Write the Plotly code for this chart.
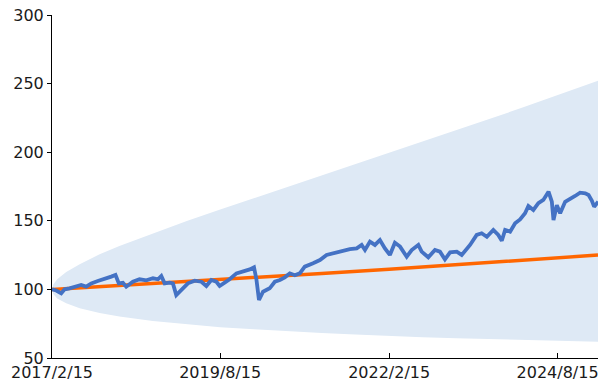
import pandas as pd
import plotly.graph_objects as go

START = "2017-02-15"

# Blue series: day offsets from 2017-02-15 and index values
blue_days = [0, 23, 50, 68, 95, 131, 158, 185, 213, 248, 285, 321, 344, 362, 384, 402,
             438, 474, 511, 547, 574, 592, 610, 637, 655, 673, 701, 736, 773, 809, 836,
             863, 890, 908, 935, 962, 999, 1035, 1071, 1094, 1107, 1121, 1143, 1179, 1207,
             1234, 1261, 1288, 1315, 1342, 1369, 1414, 1451, 1487, 1523, 1559, 1613, 1650,
             1677, 1695, 1722, 1749, 1776, 1803, 1830, 1857, 1885, 1921, 1948, 1984, 2002,
             2038, 2074, 2101, 2128, 2156, 2192, 2219, 2246, 2264, 2300, 2327, 2355, 2390,
             2417, 2436, 2454, 2481, 2508, 2535, 2562, 2580, 2607, 2634, 2661, 2689, 2707,
             2716, 2734, 2752, 2779, 2806, 2833, 2860, 2888, 2906, 2924, 2936, 2958]
blue_vals = [100, 99.2, 97.1, 100.1, 100.8, 102, 103.2, 102, 104.4, 106.1, 108.1, 109.3,
             110.5, 104.4, 104.8, 102, 105.6, 107.4, 106.6, 108.1, 107.4, 109.8, 104.4,
             104.9, 104.4, 95.9, 99.6, 104.4, 106.4, 105.6, 102.5, 106.9, 105.6, 102.5,
             104.9, 107.4, 111.7, 112.9, 114.6, 116.1, 107.4, 92.3, 98.3, 100.8, 105.6,
             106.9, 108.8, 111.7, 110.3, 111.7, 116.6, 119, 121.4, 125.1, 126.3, 127.5,
             129.4, 129.9, 132.4, 128.7, 134.8, 132.4, 136, 129.9, 125.1, 134.0, 131.2,
             123.8, 128.7, 132.4, 127.5, 123.4, 128.7, 127.5, 121.9, 127, 127.5, 125.1,
             129.6, 132.4, 139.7, 140.9, 138.4, 143.3, 139.7, 135.5, 143.3, 142.1, 148.2,
             151, 155.5, 160.8, 157.9, 162.8, 165.2, 171.2, 163.9, 150.6, 161.4, 155.5,
             163.9, 166.4, 168.1, 170.5, 170, 168.8, 164.6, 160.3, 163.9]

# Orange (expected path)
orange_dates = ["2017-02-15", "2018-02-15", "2019-02-15", "2020-02-15", "2021-02-15",
                "2022-02-15", "2023-02-15", "2024-02-15", "2025-03-22"]
orange_vals = [100, 102.8, 105.7, 108.6, 111.6, 114.7, 117.9, 121.2, 125]

# Band (upper / lower)
band_dates = ["2017-02-15", "2017-02-22", "2017-03-15", "2017-05-03", "2017-07-15",
              "2017-10-31", "2018-02-15", "2018-08-15", "2019-02-15", "2019-08-15",
              "2020-02-15", "2020-08-15", "2021-02-15", "2021-08-15", "2022-02-15",
              "2022-08-15", "2023-02-15", "2023-08-15", "2024-02-15", "2024-08-15",
              "2025-03-22"]
band_upper = [100, 103.6, 107.4, 112.6, 118.4, 125.6, 131.6, 140.9, 149.8, 158.2, 166.5,
              174.7, 182.7, 191.0, 199.2, 207.5, 215.7, 224.3, 232.9, 241.6, 252.0]
band_lower = [100, 96.6, 93.4, 89.9, 86.3, 82.8, 80.3, 77.0, 74.6, 72.5, 70.9, 69.4,
              68.2, 67.1, 66.0, 65.2, 64.4, 63.8, 63.1, 62.5, 61.9]

tick_dates = ["2017-02-15", "2019-08-15", "2022-02-15", "2024-08-15"]
tick_labels = ["2017/2/15", "2019/8/15", "2022/2/15", "2024/8/15"]

blue_dates = pd.Timestamp(START) + pd.to_timedelta(blue_days, unit="D")

fig = go.Figure()
fig.add_trace(go.Scatter(
    x=band_dates + band_dates[::-1],
    y=band_upper + band_lower[::-1],
    fill="toself", fillcolor="#DEE9F5", line=dict(width=0),
    mode="lines", hoverinfo="skip", showlegend=False))
fig.add_trace(go.Scatter(
    x=orange_dates, y=orange_vals, mode="lines",
    line=dict(color="#FF6600", width=3.5), showlegend=False))
fig.add_trace(go.Scatter(
    x=blue_dates, y=blue_vals, mode="lines",
    line=dict(color="#4472C4", width=3.8), showlegend=False))

fig.update_layout(
    width=612, height=390,
    margin=dict(l=52, r=14, t=15, b=32, autoexpand=False),
    paper_bgcolor="white", plot_bgcolor="white",
    font=dict(family="DejaVu Sans", size=16, color="#1a1a1a"),
    showlegend=False,
)
fig.update_xaxes(
    type="date", range=["2017-02-15", "2025-03-22"],
    tickvals=tick_dates, ticktext=tick_labels,
    ticks="inside", ticklen=5, tickcolor="black",
    showline=True, linecolor="black", linewidth=1,
    showgrid=False, zeroline=False, automargin=False,
    ticklabeloverflow="allow",
)
fig.update_yaxes(
    range=[50, 300], dtick=50, tick0=50,
    ticks="outside", ticklen=4, tickcolor="black",
    showline=True, linecolor="black", linewidth=1,
    showgrid=False, zeroline=False, automargin=False,
    ticklabeloverflow="allow",
)

fig.write_html(
    "out.html",
    config={"displayModeBar": False},
    post_script="document.body.style.margin='0';document.body.style.overflow='hidden';",
)
